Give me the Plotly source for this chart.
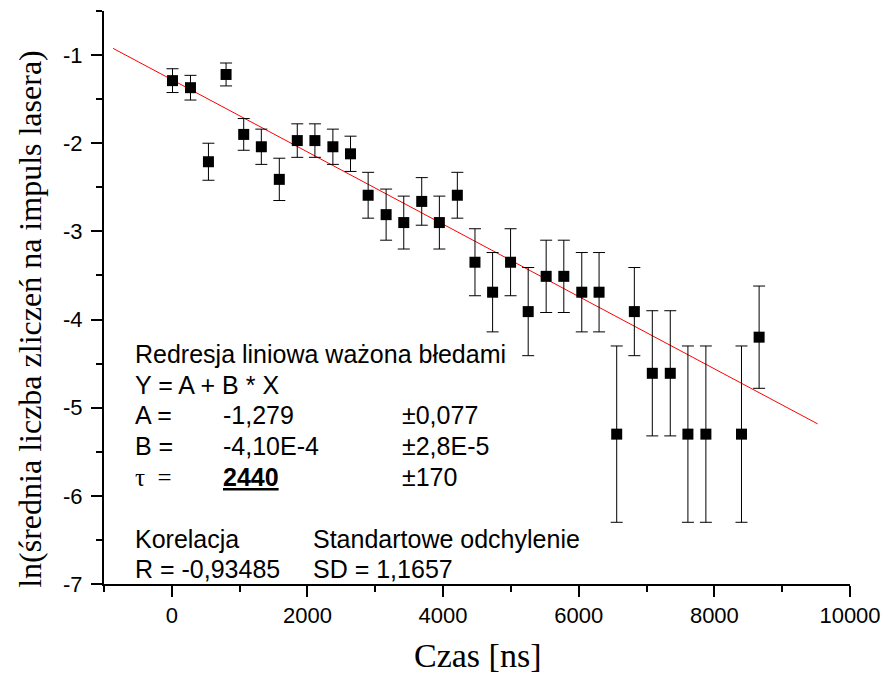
import plotly.graph_objects as go

# ---- data ----
czas_ns = [10, 275, 540, 800, 1060, 1320, 1585, 1850, 2110, 2375, 2635,
           2895, 3160, 3420, 3685, 3945, 4210, 4470, 4730, 4995, 5255, 5520,
           5780, 6045, 6300, 6560, 6820, 7085, 7350, 7610, 7875, 8400, 8660]
ln_counts = [-1.29, -1.37, -2.21, -1.22, -1.90, -2.04, -2.41, -1.97, -1.97,
             -2.04, -2.12, -2.59, -2.81, -2.90, -2.66, -2.90, -2.59, -3.35,
             -3.69, -3.35, -3.91, -3.51, -3.51, -3.69, -3.69, -5.30, -3.91,
             -4.61, -4.61, -5.30, -5.30, -5.30, -4.20]
ln_errors = [0.135, 0.14, 0.21, 0.13, 0.18, 0.20, 0.24, 0.19, 0.19, 0.20,
             0.20, 0.26, 0.29, 0.30, 0.27, 0.30, 0.26, 0.38, 0.45, 0.38,
             0.50, 0.41, 0.41, 0.45, 0.45, 1.00, 0.50, 0.71, 0.71, 1.00,
             1.00, 1.00, 0.58]

fit_A = -1.279
fit_B = -4.10e-4
fit_x = [-866, 9523]
fit_y = [fit_A + fit_B * x for x in fit_x]

x_tick_vals = [0, 2000, 4000, 6000, 8000, 10000]
y_tick_vals = [-1, -2, -3, -4, -5, -6, -7]

label_col = ["Redresja liniowa ważona błedami", "Y = A + B * X", "A =", "B =",
             "τ  =", "Korelacja", "R = -0,93485"]
value_col = ["-1,279", "-4,10E-4", "<u><b>2440</b></u>", "Standartowe odchylenie",
             "SD = 1,1657"]
error_col = ["±0,077", "±2,8E-5", "±170"]

x_title = "Czas [ns]"
y_title = "ln(średnia liczba zliczeń na impuls lasera)"

# ---- layout geometry (pixels) ----
W, H = 892, 678
L, R, T, B = 104, 34, 11, 94
PW, PH = W - L - R, H - T - B


def px_x(p):
    return (p - L) / PW


def px_y(p):
    return (H - B - p) / PH


SANS = "Liberation Sans, Arial, sans-serif"
SERIF = "Liberation Serif, Times New Roman, serif"

fig = go.Figure()
fig.add_trace(go.Scatter(
    x=fit_x, y=fit_y, mode="lines",
    line=dict(color="#ff0000", width=1), showlegend=False, hoverinfo="skip"))
fig.add_trace(go.Scatter(
    x=czas_ns, y=ln_counts, mode="markers",
    marker=dict(symbol="square", size=11, color="black"),
    error_y=dict(type="data", array=ln_errors, visible=True,
                 color="black", thickness=1, width=6),
    showlegend=False))

annotations = []
line_y = [354, 385, 415, 446, 477, 539, 569]
for txt, yy in zip(label_col, line_y):
    fnt = dict(family=SANS, size=25, color="black")
    if txt.startswith("τ"):
        fnt = dict(family=SERIF, size=25, color="black")
    annotations.append(dict(text=txt, xref="paper", yref="paper",
                            x=px_x(133), y=px_y(yy), xanchor="left",
                            yanchor="middle", showarrow=False, font=fnt))
val_pos = [(222, 415), (222, 446), (222, 477), (313, 539), (313, 569)]
for txt, (xx, yy) in zip(value_col, val_pos):
    annotations.append(dict(text=txt, xref="paper", yref="paper",
                            x=px_x(xx), y=px_y(yy), xanchor="left",
                            yanchor="middle", showarrow=False,
                            font=dict(family=SANS, size=25, color="black")))
for txt, yy in zip(error_col, [415, 446, 477]):
    annotations.append(dict(text=txt, xref="paper", yref="paper",
                            x=px_x(403), y=px_y(yy), xanchor="left",
                            yanchor="middle", showarrow=False,
                            font=dict(family=SANS, size=25, color="black")))

annotations.append(dict(text=x_title, xref="paper", yref="paper",
                        x=px_x(481), y=px_y(655), xanchor="center",
                        yanchor="middle", showarrow=False,
                        font=dict(family=SERIF, size=34, color="black")))
annotations.append(dict(text=y_title, xref="paper", yref="paper",
                        x=px_x(29), y=px_y(319), xanchor="center",
                        yanchor="middle", showarrow=False, textangle=-90,
                        font=dict(family=SERIF, size=32, color="black")))

axis_common = dict(showline=True, linewidth=2, linecolor="black",
                   ticks="outside", ticklen=11, tickwidth=2, tickcolor="black",
                   showgrid=False, zeroline=False, mirror=False,
                   tickfont=dict(family=SANS, size=22, color="black"))

fig.update_layout(
    width=W, height=H,
    margin=dict(l=L, r=R, t=T, b=B),
    paper_bgcolor="white", plot_bgcolor="white",
    xaxis=dict(range=[-1000, 10000], tickvals=x_tick_vals,
               ticktext=[str(v) for v in x_tick_vals],
               minor=dict(dtick=1000, tick0=0, ticks="outside", ticklen=6,
                          tickwidth=2, tickcolor="black"),
               ticklabelstandoff=0, **axis_common),
    yaxis=dict(range=[-7, -0.5], tickvals=y_tick_vals,
               ticktext=[str(v) for v in y_tick_vals],
               minor=dict(dtick=0.5, tick0=0, ticks="outside", ticklen=6,
                          tickwidth=2, tickcolor="black"),
               ticklabelstandoff=4, **axis_common),
    annotations=annotations,
)

fig.write_html("out.html")
